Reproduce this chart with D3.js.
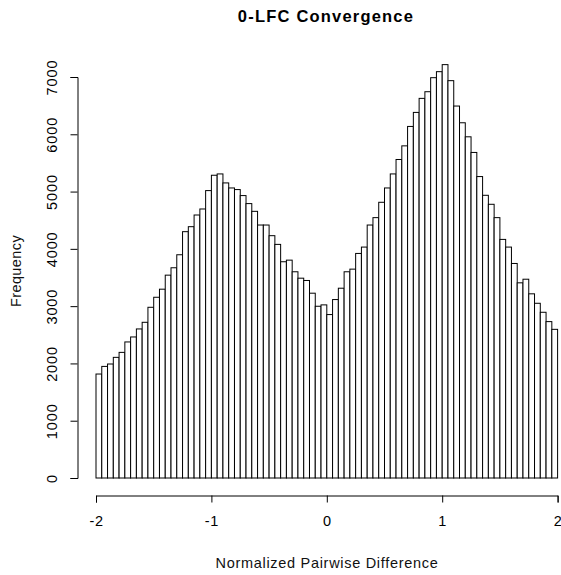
<!DOCTYPE html>
<html>
<head>
<meta charset="utf-8">
<script src="https://cdn.jsdelivr.net/npm/d3@7"></script>
<style>
  html, body { margin: 0; padding: 0; background: #fff; }
  svg { display: block; font-family: "Liberation Sans", Arial, sans-serif; }
</style>
</head>
<body>
<svg id="chart" width="561" height="575"></svg>
<script>
// Histogram bins: 80 bins of width 0.05 covering [-2, 2]
const binStart = -2;
const binWidth = 0.05;
const counts = [
  1815, 1948, 1990, 2106, 2193, 2375, 2462, 2602, 2718, 2980,
  3155, 3296, 3541, 3670, 3897, 4300, 4387, 4591, 4696, 5017,
  5285, 5308, 5151, 5063, 5035, 4930, 4790, 4655, 4416, 4416,
  4230, 4078, 3775, 3803, 3600, 3488, 3448, 3226, 2998, 3022,
  2853, 3115, 3313, 3600, 3646, 3920, 4031, 4416, 4545, 4813,
  5063, 5308, 5560, 5798, 6137, 6382, 6627, 6743, 6988, 7093,
  7216, 6936, 6493, 6201, 5956, 5683, 5262, 4935, 4778, 4545,
  4165, 4031, 3745, 3407, 3470, 3215, 3050, 2893, 2730, 2595
];
const xTicks = [-2, -1, 0, 1, 2];
const yTicks = [0, 1000, 2000, 3000, 4000, 5000, 6000, 7000];

const title = "0-LFC Convergence";
const xTitle = "Normalized Pairwise Difference";
const yTitle = "Frequency";

const bins = counts.map((c, i) => ({
  x0: binStart + i * binWidth,
  x1: binStart + (i + 1) * binWidth,
  count: c
}));

const svg = d3.select("#chart");

const x = d3.scaleLinear().domain([-2, 2]).range([96, 557.6]);
const y = d3.scaleLinear().domain([0, 7000]).range([478, 77]);

// bars
svg.append("g")
  .selectAll("rect")
  .data(bins)
  .join("rect")
  .attr("x", d => x(d.x0))
  .attr("y", d => y(d.count))
  .attr("width", d => x(d.x1) - x(d.x0))
  .attr("height", d => y(0) - y(d.count))
  .attr("fill", "#fff")
  .attr("stroke", "#000")
  .attr("stroke-width", 1);

// plain hyphen-minus labels
const plain = d => String(d);

// x axis
const xAxis = svg.append("g")
  .attr("transform", "translate(0,495.5)")
  .call(d3.axisBottom(x).tickValues(xTicks).tickSizeOuter(0).tickSize(7).tickPadding(13)
    .tickFormat(plain));
xAxis.select(".domain").attr("stroke", "#000");
xAxis.selectAll(".tick line").attr("stroke", "#000");
xAxis.selectAll("text")
  .attr("font-size", 14.5)
  .attr("letter-spacing", 0.6)
  .attr("fill", "#000")
  .style("font-family", "Liberation Sans, Arial, sans-serif");

// y axis
const yAxis = svg.append("g")
  .attr("transform", "translate(77.5,0)")
  .call(d3.axisLeft(y).tickValues(yTicks).tickSizeOuter(0).tickSize(7).tickFormat(plain));
yAxis.select(".domain").attr("stroke", "#000");
yAxis.selectAll(".tick line").attr("stroke", "#000");
yAxis.selectAll("text")
  .attr("font-size", 14.5)
  .attr("letter-spacing", 0.9)
  .attr("fill", "#000")
  .style("font-family", "Liberation Sans, Arial, sans-serif")
  .attr("x", 0)
  .attr("dy", 0)
  .attr("text-anchor", "middle")
  .attr("dominant-baseline", "auto")
  .attr("transform", "translate(-21,0) rotate(-90)");

// titles
svg.append("text")
  .attr("x", 326)
  .attr("y", 22)
  .attr("text-anchor", "middle")
  .attr("font-size", 16.5)
  .attr("letter-spacing", 1.2)
  .attr("font-weight", "bold")
  .attr("fill", "#000")
  .text(title);

svg.append("text")
  .attr("x", 327)
  .attr("y", 568)
  .attr("text-anchor", "middle")
  .attr("font-size", 14.5)
  .attr("letter-spacing", 0.7)
  .attr("fill", "#111")
  .text(xTitle);

svg.append("text")
  .attr("transform", "translate(21,271) rotate(-90)")
  .attr("text-anchor", "middle")
  .attr("font-size", 14.5)
  .attr("letter-spacing", 0.4)
  .attr("fill", "#111")
  .text(yTitle);
</script>
</body>
</html>
